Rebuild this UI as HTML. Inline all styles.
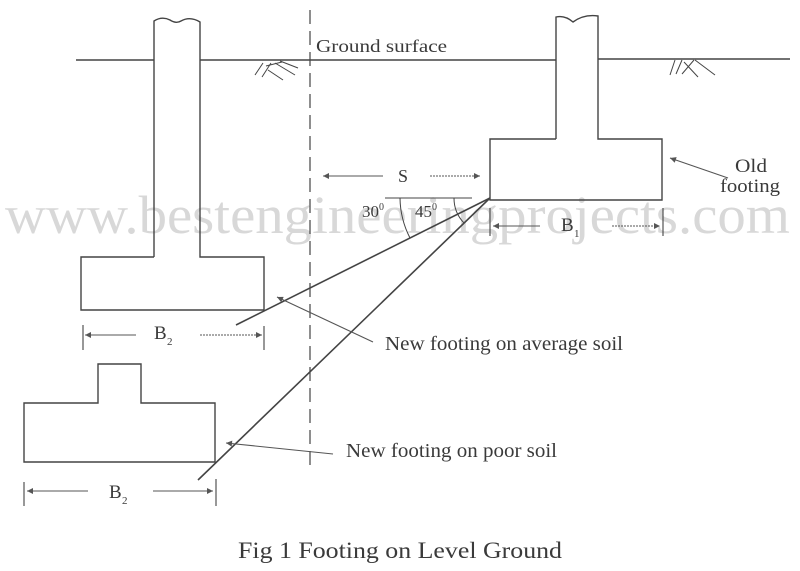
<!DOCTYPE html>
<html>
<head>
<meta charset="utf-8">
<style>
html,body{margin:0;padding:0;background:#fff;}
svg{display:block;font-family:"Liberation Serif","Times New Roman",Times,serif;}
svg text{font-family:"Liberation Serif","Times New Roman",Times,serif !important;fill:#3a3a3a;}
</style>
</head>
<body>
<svg width="800" height="571" viewBox="0 0 800 571" xmlns="http://www.w3.org/2000/svg" font-family="Liberation Serif, Times New Roman, serif">
<defs>
<marker id="ah" viewBox="0 0 10 10" refX="10" refY="5" markerWidth="8" markerHeight="6" orient="auto" markerUnits="userSpaceOnUse">
<path d="M0,0 L10,5 L0,10 z" fill="#555"/>
</marker>
</defs>

<!-- watermark -->
<text x="5" y="233" font-size="54" textLength="785" lengthAdjust="spacingAndGlyphs" style="fill:#d8d8d8">www.bestengineeringprojects.com</text>

<g fill="none" stroke="#444" stroke-width="1.4">
<!-- ground line -->
<line x1="76" y1="60" x2="154" y2="60"/>
<line x1="200" y1="60" x2="556" y2="60"/>
<line x1="598" y1="59" x2="790" y2="59"/>

<!-- left column + footing -->
<path d="M154,257 L154,21 Q162,16 170,20 Q176,24 181,21 Q190,16 200,22 L200,257 L264,257 L264,310 L81,310 L81,257 L154,257"/>

<!-- right column + footing -->
<path d="M556,139 L556,17 Q565,15 573,22 Q584,14 598,16 L598,139 L662,139 L662,200 L490,200 L490,139 L556,139"/>

<!-- lower new footing -->
<path d="M98,403 L98,364 L141,364 L141,403 L215,403 L215,462 L24,462 L24,403 Z"/>

<!-- dashed vertical -->
<line x1="310" y1="10" x2="310" y2="470" stroke-dasharray="14 7" stroke-width="1.2"/>

<!-- slope lines -->
<line x1="490" y1="198" x2="236" y2="325" stroke-width="1.6"/>
<line x1="490" y1="198" x2="198" y2="480" stroke-width="1.6"/>

<!-- reference horizontal -->
<line x1="385" y1="198" x2="472" y2="198" stroke-width="1.1"/>

<!-- angle arcs -->
<path d="M400,198 A90,90 0 0 0 410,238" stroke-width="1"/>
<path d="M454,198 A36,36 0 0 0 464,223" stroke-width="1"/>

<!-- hatching left -->
<g stroke-width="1">
<line x1="255" y1="75" x2="263" y2="63"/>
<line x1="262" y1="77" x2="271" y2="63"/>
<line x1="266" y1="66" x2="282" y2="62"/>
<line x1="268" y1="70" x2="283" y2="80"/>
<line x1="275" y1="63" x2="295" y2="75"/>
<line x1="280" y1="61" x2="298" y2="68"/>
</g>
<!-- hatching right -->
<g stroke-width="1">
<line x1="670" y1="75" x2="675" y2="60"/>
<line x1="676" y1="74" x2="682" y2="60"/>
<line x1="684" y1="62" x2="698" y2="77"/>
<line x1="682" y1="74" x2="694" y2="60"/>
<line x1="695" y1="60" x2="715" y2="75"/>
</g>

<!-- dimension ticks -->
<g stroke-width="1.1">
<line x1="83" y1="325" x2="83" y2="350"/>
<line x1="264" y1="326" x2="264" y2="350"/>
<line x1="24" y1="482" x2="24" y2="506"/>
<line x1="216" y1="479" x2="216" y2="506"/>
<line x1="490" y1="208" x2="490" y2="236"/>
<line x1="663" y1="208" x2="663" y2="236"/>
</g>

<!-- dimension arrows -->
<g stroke="#555" stroke-width="1.1">
<line x1="136" y1="335" x2="85" y2="335" marker-end="url(#ah)"/>
<line x1="200" y1="335" x2="262" y2="335" stroke-dasharray="2 1" marker-end="url(#ah)"/>
<line x1="88" y1="491" x2="27" y2="491" marker-end="url(#ah)"/>
<line x1="153" y1="491" x2="213" y2="491" marker-end="url(#ah)"/>
<line x1="383" y1="176" x2="323" y2="176" marker-end="url(#ah)"/>
<line x1="430" y1="176" x2="480" y2="176" stroke-dasharray="2 1" marker-end="url(#ah)"/>
<line x1="540" y1="226" x2="493" y2="226" marker-end="url(#ah)"/>
<line x1="612" y1="226" x2="660" y2="226" stroke-dasharray="2 1" marker-end="url(#ah)"/>
<!-- leaders -->
<line x1="728" y1="178" x2="670" y2="158" marker-end="url(#ah)"/>
<line x1="373" y1="342" x2="277" y2="297" marker-end="url(#ah)"/>
<line x1="333" y1="454" x2="226" y2="443" marker-end="url(#ah)"/>
</g>
</g>

<!-- labels -->
<text x="316" y="52" font-size="18" textLength="131" lengthAdjust="spacingAndGlyphs">Ground surface</text>
<text x="735" y="172" font-size="19" textLength="32" lengthAdjust="spacingAndGlyphs">Old</text>
<text x="720" y="192" font-size="19" textLength="60" lengthAdjust="spacingAndGlyphs">footing</text>
<text x="398" y="182" font-size="18">S</text>
<text x="362" y="217" font-size="17">30</text><text x="379" y="210" font-size="10">0</text>
<text x="415" y="217" font-size="17">45</text><text x="432" y="210" font-size="10">0</text>
<text x="561" y="231" font-size="19">B</text><text x="574" y="237" font-size="11">1</text>
<text x="154" y="339" font-size="19">B</text><text x="167" y="345" font-size="11">2</text>
<text x="109" y="498" font-size="19">B</text><text x="122" y="504" font-size="11">2</text>
<text x="385" y="350" font-size="20" textLength="238" lengthAdjust="spacingAndGlyphs">New footing on average soil</text>
<text x="346" y="457" font-size="20" textLength="211" lengthAdjust="spacingAndGlyphs">New footing on poor soil</text>
<text x="238" y="558" font-size="23" textLength="324" lengthAdjust="spacingAndGlyphs">Fig 1 Footing on Level Ground</text>
</svg>
</body>
</html>
